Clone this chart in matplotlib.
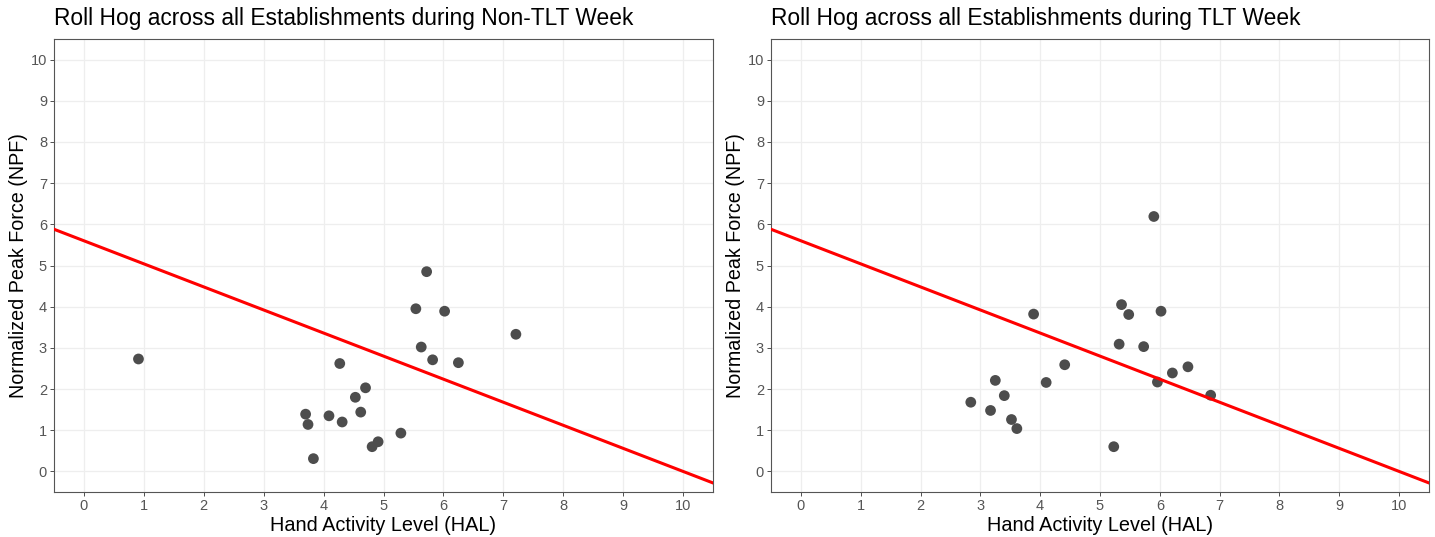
import numpy as np
import matplotlib.pyplot as plt

plt.rcParams['font.family'] = ['Liberation Sans', 'DejaVu Sans']

# Non-TLT week (HAL, NPF)
hal_non = [0.91, 5.72, 5.54, 6.02, 7.21, 5.63, 5.82, 6.25, 4.27, 4.70,
           4.53, 4.62, 3.70, 4.09, 3.74, 4.31, 5.29, 4.91, 4.81, 3.83]
npf_non = [2.73, 4.85, 3.95, 3.89, 3.33, 3.02, 2.71, 2.64, 2.62, 2.03,
           1.80, 1.44, 1.39, 1.35, 1.14, 1.20, 0.93, 0.72, 0.60, 0.31]

# TLT week (HAL, NPF)
hal_tlt = [5.90, 5.36, 5.48, 6.02, 3.89, 5.32, 5.73, 4.41, 6.47, 6.21,
           3.25, 4.10, 5.96, 3.40, 6.85, 2.84, 3.17, 3.52, 3.61, 5.23]
npf_tlt = [6.19, 4.05, 3.81, 3.89, 3.82, 3.09, 3.03, 2.59, 2.54, 2.39,
           2.21, 2.16, 2.17, 1.84, 1.85, 1.68, 1.48, 1.26, 1.04, 0.60]

# TLV line: NPF = 5.6 - 0.56 * HAL
tlv_intercept = 5.6
tlv_slope = -0.56

titles = ['Roll Hog across all Establishments during Non-TLT Week',
          'Roll Hog across all Establishments during TLT Week']
ticks = list(range(0, 11))

W, H = 1435, 537
fig = plt.figure(figsize=(W / 100, H / 100), dpi=100)

panels = [(54, 713), (771, 1429)]
top, bottom = 39, 492
data = [(hal_non, npf_non), (hal_tlt, npf_tlt)]

for (x0, x1), (hx, ny), title in zip(panels, data, titles):
    ax = fig.add_axes([x0 / W, 1 - bottom / H, (x1 - x0) / W, (bottom - top) / H])
    ax.set_xlim(-0.5, 10.5)
    ax.set_ylim(-0.5, 10.5)
    ax.set_xticks(ticks)
    ax.set_yticks(ticks)
    ax.grid(True, color='#EEEEEE', lw=0.9)
    ax.set_axisbelow(True)
    for s in ax.spines.values():
        s.set_color('#555555')
        s.set_linewidth(0.8)
    ax.tick_params(length=3, width=0.6, color='#333333', labelcolor='#555555',
                   labelsize=10.5, pad=2)
    ax.scatter(hx, ny, s=60, color='#4D4D4D', edgecolors='none', zorder=3)
    ax.axline((0, tlv_intercept), slope=tlv_slope, color='#FF0000', lw=2.2, zorder=4)
    ax.set_xlabel('Hand Activity Level (HAL)', fontsize=14.3, labelpad=2)
    ax.set_ylabel('Normalized Peak Force (NPF)', fontsize=14.2, labelpad=2)
    fig.text(x0 / W, 1 - 25 / H, title, fontsize=16.4, va='baseline', ha='left')

fig.savefig('out.png', dpi=100)
